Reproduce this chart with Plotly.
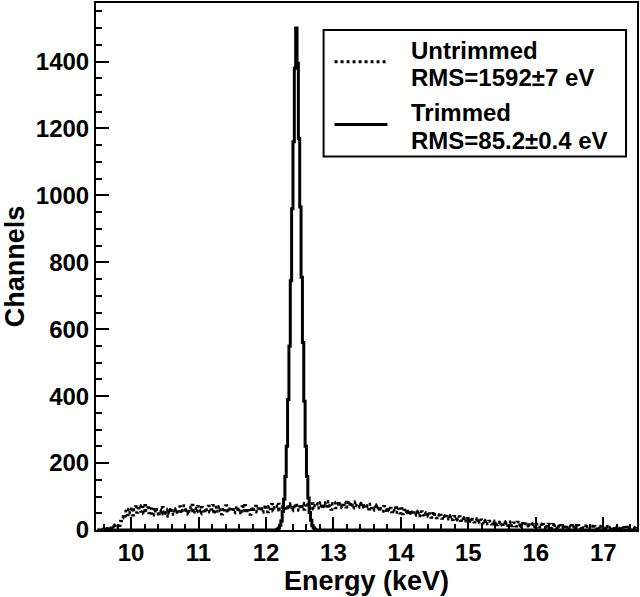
import numpy as np
import plotly.graph_objects as go

# ---- data -------------------------------------------------------------
bin_start = 9.5          # keV, first bin lower edge
bin_width = 0.02         # keV

untrimmed = [
    0, 0, 0, 0, 3, 6, 2, 9, 4, 12, 7, 14, 5, 16, 10, 18, 13, 27, 35, 46,
    41, 57, 45, 63, 50, 68, 44, 61, 70, 52, 65, 73, 55, 69, 48, 74, 58, 67, 51, 64,
    49, 62, 44, 66, 53, 41, 60, 47, 68, 45, 58, 40, 63, 50, 67, 46, 59, 52, 64, 48,
    55, 70, 50, 64, 73, 52, 61, 46, 69, 57, 75, 49, 66, 54, 71, 60, 47, 68, 56, 63,
    52, 67, 72, 53, 61, 74, 48, 63, 69, 55, 71, 57, 47, 66, 59, 73, 51, 68, 56, 62,
    67, 50, 60, 71, 54, 63, 47, 70, 57, 74, 51, 65, 59, 46, 69, 55, 62, 72, 53, 64,
    58, 70, 52, 67, 75, 60, 54, 71, 63, 77, 56, 68, 73, 59, 78, 62, 70, 55, 74, 65,
    60, 76, 66, 79, 57, 72, 64, 80, 67, 58, 77, 63, 81, 61, 73, 68, 78, 59, 71, 79,
    62, 74, 80, 65, 77, 83, 64, 78, 69, 82, 70, 85, 72, 61, 79, 84, 66, 76, 86, 71,
    80, 66, 75, 84, 68, 78, 87, 70, 82, 64, 76, 85, 72, 67, 81, 70, 79, 63, 74, 69,
    73, 62, 78, 66, 58, 72, 64, 76, 57, 70, 62, 55, 71, 60, 53, 68, 57, 66, 54, 63,
    56, 67, 52, 63, 50, 64, 48, 60, 51, 62, 47, 58, 45, 59, 52, 43, 57, 46, 54, 42,
    55, 44, 53, 41, 52, 40, 49, 37, 50, 41, 47, 36, 46, 38, 45, 34, 44, 35, 42, 32,
    44, 33, 42, 31, 41, 30, 39, 29, 40, 28, 37, 27, 38, 26, 35, 25, 36, 24, 33, 23,
    34, 23, 33, 21, 31, 20, 30, 19, 29, 18, 27, 22, 17, 28, 16, 25, 15, 24, 14, 22,
    16, 26, 14, 23, 13, 21, 25, 12, 22, 15, 11, 24, 13, 21, 10, 20, 14, 19, 11, 21,
    13, 19, 10, 20, 9, 18, 12, 8, 19, 10, 17, 7, 16, 9, 18, 10, 6, 17, 8, 15,
    7, 16, 6, 14, 5, 15, 9, 4, 13, 11, 5, 14, 6, 12, 8, 3, 14, 7, 5, 12,
    5, 13, 4, 11, 3, 10, 12, 4, 11, 2, 10, 6, 2, 12, 3, 10, 7, 2, 11, 4,
    9, 2, 10, 4, 1, 9, 3, 6, 10, 1, 8, 3, 9, 1, 7, 4, 0, 8, 5, 2,
]

# trimmed spectrum: non-zero bins starting at this energy (all other bins 0)
trimmed_start = 12.16
trimmed_peak = [
    2, 6, 14, 27, 55, 92, 160, 250, 390, 550, 745, 960, 1160, 1380,
    1500,
    1395, 1170, 965, 755, 560, 385, 250, 160, 96, 52, 29, 13, 6, 2,
]

legend_names = ["Untrimmed<br>RMS=1592\u00b17 eV", "Trimmed<br>RMS=85.2\u00b10.4 eV"]
x_range = [9.48, 17.5]
y_range = [0, 1575]
x_title = "Energy (keV)"
y_title = "Channels"

# ---- build step histograms --------------------------------------------
n = len(untrimmed)
edges = bin_start + bin_width * np.arange(n + 1)
trimmed = np.zeros(n)
i0 = int(round((trimmed_start - bin_start) / bin_width))
trimmed[i0:i0 + len(trimmed_peak)] = trimmed_peak

def step(vals):
    v = list(vals) + [vals[-1]]
    return edges, v

FONT = "Liberation Sans, Arial, Helvetica, sans-serif"

fig = go.Figure()
xu, yu = step(untrimmed)
fig.add_trace(go.Scatter(x=xu, y=yu, mode="lines", line=dict(shape="hv", color="black", width=2.5, dash="dot"),
                         name=legend_names[0], showlegend=False))
xt, yt = step(list(trimmed))
fig.add_trace(go.Scatter(x=xt, y=yt, mode="lines", line=dict(shape="hv", color="black", width=3),
                         name=legend_names[1], showlegend=False))

axis_common = dict(
    showgrid=False, zeroline=False, showline=True, linecolor="black", linewidth=2,
    mirror=True, ticks="inside", tickcolor="black", tickwidth=2,
    tickfont=dict(family=FONT, size=24, color="black", weight="bold"),
)
fig.update_xaxes(range=x_range, dtick=1, tick0=10, ticklen=13,
                 minor=dict(dtick=0.2, ticks="inside", ticklen=6, tickcolor="black", tickwidth=2),
                 title=dict(text="<b>" + x_title + "</b>", font=dict(family=FONT, size=27, color="black"), standoff=4),
                 **axis_common)
fig.update_yaxes(range=y_range, dtick=200, tick0=0, ticklen=13,
                 minor=dict(dtick=50, ticks="inside", ticklen=6, tickcolor="black", tickwidth=2),
                 title=dict(text="<b>" + y_title + "</b>", font=dict(family=FONT, size=27, color="black"), standoff=16),
                 **axis_common)

# ---- legend box (drawn in paper coordinates) --------------------------
px0, px1 = 96, 638
py0, py1 = 1, 530
def pxx(x):
    return (x - px0) / (px1 - px0)
def pyy(y):
    return (py1 - y) / (py1 - py0)

shapes = [
    dict(type="rect", xref="paper", yref="paper", x0=pxx(324), x1=pxx(627), y0=pyy(155), y1=pyy(28),
         line=dict(color="black", width=2), fillcolor="white", layer="above"),
    dict(type="line", xref="paper", yref="paper", x0=pxx(335), x1=pxx(388), y0=pyy(60), y1=pyy(60),
         line=dict(color="black", width=3, dash="dot"), layer="above"),
    dict(type="line", xref="paper", yref="paper", x0=pxx(335), x1=pxx(388), y0=pyy(123), y1=pyy(123),
         line=dict(color="black", width=3), layer="above"),
]
lines_text = [("Untrimmed", 49), ("RMS=1592\u00b17 eV", 76), ("Trimmed", 111), ("RMS=85.2\u00b10.4 eV", 139)]
annotations = [
    dict(text="<b>" + t + "</b>", xref="paper", yref="paper", x=pxx(410), y=pyy(yc), xanchor="left", yanchor="middle",
         showarrow=False, font=dict(family=FONT, size=24, color="black"))
    for t, yc in lines_text
]

fig.update_layout(
    width=640, height=597,
    margin=dict(l=px0, r=640 - px1, t=py0, b=597 - py1),
    paper_bgcolor="white", plot_bgcolor="white",
    shapes=shapes, annotations=annotations,
    showlegend=False,
)
fig.write_html("out.html", config={"displayModeBar": False},
               post_script="document.body.style.margin='0px';document.body.style.padding='0px';")
